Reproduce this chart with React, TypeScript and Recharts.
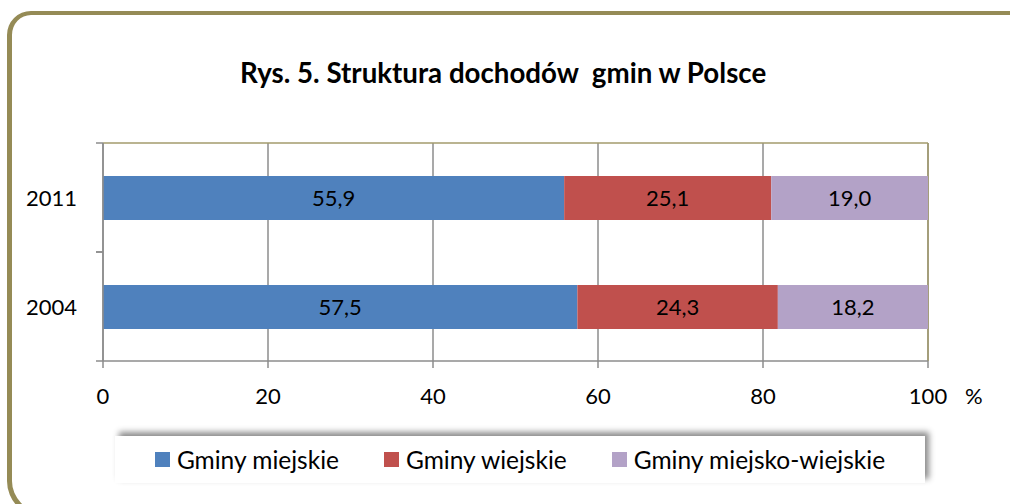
import React from 'react';
import { BarChart, Bar, XAxis, YAxis, CartesianGrid, Legend, LabelList } from 'recharts';

const years = ['2011', '2004'];
const miejskie = [55.9, 57.5];
const wiejskie = [25.1, 24.3];
const miejskoWiejskie = [19.0, 18.2];
const xTicks = [0, 20, 40, 60, 80, 100];
const seriesNames = ['Gminy miejskie', 'Gminy wiejskie', 'Gminy miejsko-wiejskie'];
const seriesColors = ['#4F81BD', '#C0504D', '#B3A2C7'];
const title = 'Rys. 5. Struktura dochodów  gmin w Polsce';

const data = years.map((y, i) => ({
  year: y,
  a: miejskie[i],
  b: wiejskie[i],
  c: miejskoWiejskie[i],
}));

const W = 1010;
const H = 504;
const MARGIN = { top: 143, right: 82, bottom: 73, left: 43 };
const X_AXIS_H = 70;
const Y_AXIS_W = 60;
const BAND = (H - MARGIN.top - MARGIN.bottom - X_AXIS_H) / years.length;
const FONT = 'Lato, "Open Sans", sans-serif';
const FS = 22;
const GRID = '#8c8c8c';
const OLIVE = '#a39b6c';

const fmt = (v: any) => Number(v).toFixed(1).replace('.', ',');

const YTick = (props: any) => {
  const { x, y, payload } = props;
  const axisX = x + 26;
  return (
    <g>
      <text x={x} y={y} textAnchor="end" dominantBaseline="central" fill="#000" fontSize={FS}>
        {payload.value}
      </text>
      <line x1={axisX - 7} x2={axisX} y1={y - BAND / 2} y2={y - BAND / 2} stroke={GRID} strokeWidth={1.5} />
      <line x1={axisX - 7} x2={axisX} y1={y + BAND / 2} y2={y + BAND / 2} stroke={GRID} strokeWidth={1.5} />
    </g>
  );
};

const LegendContent = (props: any) => {
  const items = [...(props.payload || [])].sort(
    (p: any, q: any) => seriesNames.indexOf(p.value) - seriesNames.indexOf(q.value)
  );
  return (
    <div
      style={{
        width: '100%',
        height: '100%',
        display: 'flex',
        alignItems: 'center',
        justifyContent: 'center',
        gap: 45,
        fontFamily: FONT,
        fontSize: 24.5,
        color: '#000',
      }}
    >
      {items.map((p: any) => (
        <div key={p.value} style={{ display: 'flex', alignItems: 'center' }}>
          <span style={{ width: 15, height: 15, background: p.color, display: 'inline-block', marginRight: 7 }} />
          <span>{p.value}</span>
        </div>
      ))}
    </div>
  );
};

export default function App() {
  return (
    <div
      style={{
        position: 'absolute',
        left: 0,
        top: 0,
        width: W,
        height: H,
        overflow: 'hidden',
        background: '#fff',
        fontFamily: FONT,
      }}
    >
      <div
        style={{
          position: 'absolute',
          left: 7,
          top: 11,
          width: 1030,
          height: 506,
          boxSizing: 'border-box',
          borderStyle: 'solid',
          borderColor: '#958b56',
          borderWidth: '4px 5px 5px 5px',
          borderRadius: '24px 28px 28px 36px',
        }}
      />
      <div
        style={{
          position: 'absolute',
          left: 240,
          top: 55,
          whiteSpace: 'pre',
          fontWeight: 700,
          fontSize: 27.7,
          color: '#000',
          lineHeight: '36px',
        }}
      >
        {title}
      </div>
      <div style={{ position: 'absolute', left: 0, top: 0 }}>
        <BarChart width={W} height={H} data={data} layout="vertical" margin={MARGIN}>
          <CartesianGrid vertical horizontal={false} stroke={GRID} strokeWidth={1.5} />
          <CartesianGrid
            stroke={OLIVE}
            strokeWidth={1.5}
            horizontalCoordinatesGenerator={({ offset }: any) => [offset.top]}
            verticalCoordinatesGenerator={({ offset }: any) => [offset.left + offset.width]}
          />
          <XAxis
            type="number"
            domain={[0, 100]}
            ticks={xTicks}
            interval={0}
            tickSize={7}
            tickMargin={20}
            height={X_AXIS_H}
            stroke={GRID}
            axisLine={{ stroke: GRID, strokeWidth: 1.5 }}
            tickLine={{ stroke: GRID, strokeWidth: 1.5 }}
            tick={{ fill: '#000', fontSize: FS }}
            label={{ value: '%', position: 'right', offset: 37, fill: '#000', fontSize: FS }}
          />
          <YAxis
            type="category"
            dataKey="year"
            width={Y_AXIS_W}
            tickSize={7}
            tickMargin={19}
            tickLine={false}
            axisLine={{ stroke: GRID, strokeWidth: 1.5 }}
            tick={<YTick />}
          />
          <Legend
            verticalAlign="middle"
            layout="horizontal"
            wrapperStyle={{
              position: 'absolute',
              left: 115,
              top: 436,
              width: 810,
              height: 47,
              background: '#fff',
              boxShadow: '4px -4px 6px rgba(0,0,0,0.45)',
            }}
            content={<LegendContent />}
          />
          <Bar dataKey="a" name={seriesNames[0]} stackId="s" fill={seriesColors[0]} barSize={44} isAnimationActive={false}>
            <LabelList dataKey="a" position="center" formatter={fmt} fill="#000" fontSize={FS} />
          </Bar>
          <Bar dataKey="b" name={seriesNames[1]} stackId="s" fill={seriesColors[1]} barSize={44} isAnimationActive={false}>
            <LabelList dataKey="b" position="center" formatter={fmt} fill="#000" fontSize={FS} />
          </Bar>
          <Bar dataKey="c" name={seriesNames[2]} stackId="s" fill={seriesColors[2]} barSize={44} isAnimationActive={false}>
            <LabelList dataKey="c" position="center" formatter={fmt} fill="#000" fontSize={FS} />
          </Bar>
        </BarChart>
      </div>
    </div>
  );
}
